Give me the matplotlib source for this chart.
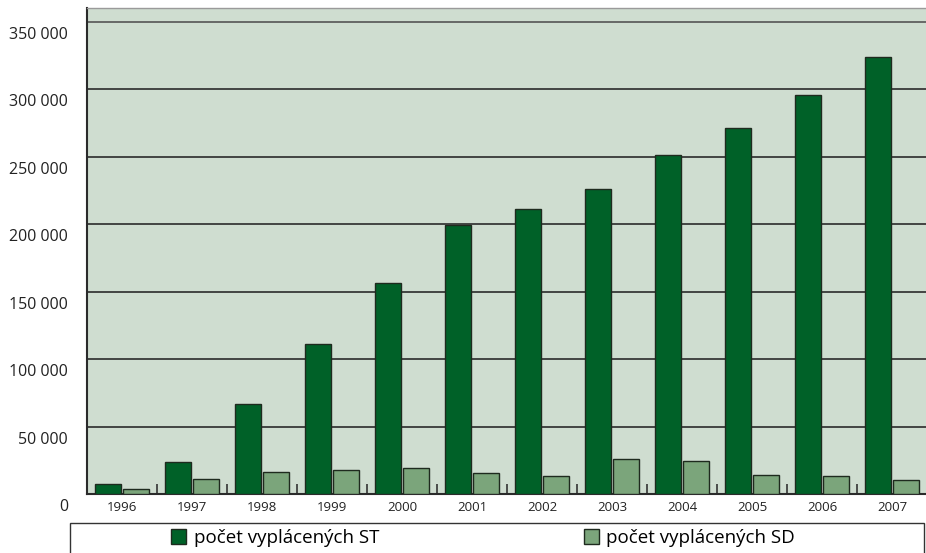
import matplotlib
matplotlib.use("Agg")
import matplotlib.pyplot as plt
import matplotlib.transforms as mtransforms
from matplotlib.patches import Rectangle

# data
years = ["1996", "1997", "1998", "1999", "2000", "2001",
         "2002", "2003", "2004", "2005", "2006", "2007"]
st_values = [7200, 23500, 66500, 111000, 156500, 199800,
             211300, 226200, 251100, 271200, 295900, 323800]
sd_values = [3500, 10900, 16300, 17600, 19300, 15800,
             13100, 26200, 24700, 14300, 13600, 10600]
y_ticks = [0, 50000, 100000, 150000, 200000, 250000, 300000, 350000]
y_labels = ["0", "50 000", "100 000", "150 000", "200 000",
            "250 000", "300 000", "350 000"]
series_names = ["počet vyplácených ST", "počet vyplácených SD"]

ST_COLOR = "#006128"
SD_COLOR = "#7ba57b"
BG = "#cfddd0"
EDGE = "#1e2a1e"

plt.rcParams["font.family"] = ["Open Sans", "DejaVu Sans"]

W, H = 926, 553
fig = plt.figure(figsize=(W / 100, H / 100), dpi=100)
ax = fig.add_axes([87 / W, (H - 494) / H, 840 / W, 486 / H])
ax.set_facecolor(BG)

x = list(range(len(years)))
bw = 0.36
st_bars = ax.bar([i - 0.2 for i in x], st_values, width=bw, color=ST_COLOR,
                 edgecolor=EDGE, linewidth=1, zorder=3)
sd_bars = ax.bar([i + 0.2 for i in x], sd_values, width=bw, color=SD_COLOR,
                 edgecolor=EDGE, linewidth=1, zorder=3)

ax.set_xlim(-0.5, len(years) - 0.5)
ax.set_ylim(0, 486 / 1.3486 * 1000)

# gridlines
for v in y_ticks[1:]:
    ax.axhline(v, color="#2b2b2b" if v < 350000 else "#555555",
               linewidth=1.2, zorder=1)

# y labels sit a bit below their gridlines
ax.set_yticks(y_ticks)
ax.set_yticklabels(y_labels, fontsize=11.5, color="#222222")
ax.tick_params(axis="y", length=0, pad=13.5)
offset = mtransforms.ScaledTranslation(0, -0.11, fig.dpi_scale_trans)
for lab in ax.get_yticklabels():
    lab.set_transform(lab.get_transform() + offset)

# x labels, with short separators between categories
ax.set_xticks(x)
ax.set_xticklabels(years, fontsize=9.5, color="#222222")
ax.tick_params(axis="x", which="major", length=0, pad=5)
ax.set_xticks([i + 0.5 for i in x], minor=True)
ax.tick_params(axis="x", which="minor", direction="in", length=7.5,
               width=1.2, color="#333333")

for side in ["left", "bottom"]:
    ax.spines[side].set_color("#2b2b2b")
    ax.spines[side].set_linewidth(1.5)
ax.spines["top"].set_color("#9a9a9a")
ax.spines["top"].set_linewidth(1)
ax.spines["right"].set_visible(False)

# legend box at the bottom, running off the lower edge
fig.patches.append(Rectangle((70 / W, -0.05), 854 / W, (H - 523) / H + 0.05,
                             transform=fig.transFigure, fill=False,
                             edgecolor="#333333", linewidth=1))
fig.legend([st_bars, sd_bars], series_names, loc="center left",
           bbox_to_anchor=(162 / W, (H - 538) / H), ncol=2, frameon=False,
           fontsize=13.5, handlelength=0.8, handleheight=0.8,
           handletextpad=0.4, columnspacing=10.9, borderpad=0)

fig.savefig("out.png", dpi=100)
